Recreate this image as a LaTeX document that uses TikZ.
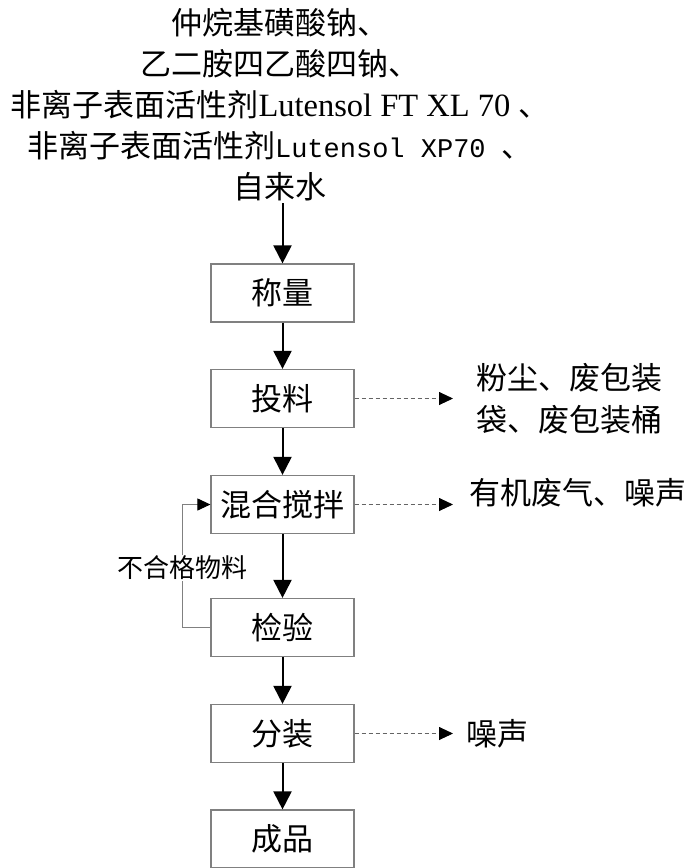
\documentclass[tikz,border=0pt]{standalone}
\usepackage{fontspec}
\setmainfont{Liberation Serif}
\newfontfamily\cjk{Noto Sans CJK SC}
\newfontfamily\lmono{Liberation Mono}
\usetikzlibrary{arrows.meta}
\definecolor{boxgray}{RGB}{128,128,128}
\definecolor{dashgray}{RGB}{100,100,100}
\begin{document}
\begin{tikzpicture}[x=1pt,y=-1pt,
  stepbox/.style={draw=boxgray, line width=1.2pt, minimum width=143pt, minimum height=58pt, inner sep=0pt, font=\cjk\fontsize{31}{31}\selectfont},
  flow/.style={line width=2pt, -{Triangle[length=18pt,width=18pt]}},
  waste/.style={draw=dashgray, line width=0.9pt, dash pattern=on 4pt off 3pt, -{Triangle[length=14pt,width=13pt,color=black]}},
  fb/.style={draw=boxgray, line width=1pt, -{Triangle[length=13pt,width=12pt,color=black]}},
  sidelabel/.style={inner sep=0pt, anchor=west, align=left, font=\cjk\fontsize{31}{42}\selectfont},
]
\fill[white] (0,0) rectangle (693,868);
\useasboundingbox (0,0) rectangle (693,868);

\node[inner sep=0pt, align=center, font=\fontsize{31}{41}\selectfont] (inputs) at (280,105)
  {{\cjk 仲烷基磺酸钠、}\\
   {\cjk 乙二胺四乙酸四钠、}\\
   {\cjk 非离子表面活性剂}{\fontsize{32.5}{41}\selectfont Lutensol FT XL 70 }{\cjk 、}\\
   {\cjk 非离子表面活性剂}{\lmono\fontsize{27}{41}\selectfont Lutensol XP70 }{\cjk 、}\\
   {\cjk 自来水}};
\coordinate (instart) at (282.5,203);

\node[stepbox] (cl) at (282.5,293) {称量};
\node[stepbox] (tl) at (282.5,398.5) {投料};
\node[stepbox] (hh) at (282.5,504.5) {混合搅拌};
\node[stepbox] (jy) at (282.5,627.5) {检验};
\node[stepbox] (fz) at (282.5,733.5) {分装};
\node[stepbox] (cp) at (282.5,839) {成品};

\draw[flow] (instart) -- (cl.north);
\draw[flow] (cl) -- (tl);
\draw[flow] (tl) -- (hh);
\draw[flow] (hh) -- (jy);
\draw[flow] (jy) -- (fz);
\draw[flow] (fz) -- (cp);

\coordinate (w1) at (453,398.5);
\coordinate (w2) at (453,504.5);
\coordinate (w3) at (453,733.5);
\draw[waste] (tl.east) -- (w1);
\draw[waste] (hh.east) -- (w2);
\draw[waste] (fz.east) -- (w3);

\node[sidelabel] (o1) at (476,399) {粉尘、废包装\\袋、废包装桶};
\node[sidelabel] (o2) at (469,493) {有机废气、噪声};
\node[sidelabel] (o3) at (466,734) {噪声};

\draw[fb] (jy.west) -- ++(-28,0) |- (hh.west);
\node[fill=white, inner sep=1pt, font=\cjk\fontsize{26}{26}\selectfont] (bad) at (182.5,568) {不合格物料};
\end{tikzpicture}
\end{document}
